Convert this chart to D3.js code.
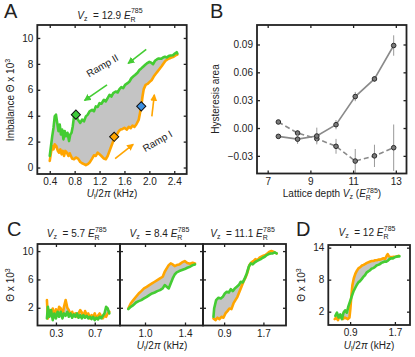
<!DOCTYPE html>
<html><head><meta charset="utf-8">
<script src="https://cdn.jsdelivr.net/npm/d3@7"></script>
<style>
body{margin:0;background:#fff}
svg text{font-family:"Liberation Sans",Arial,Helvetica,sans-serif;fill:#222}
</style></head><body>
<svg id="fig" width="415" height="357"></svg>
<script>
// ---------- DATA ----------
// Panel A (Vz = 12.9)
const aOrange = [[0.40,0.51],[0.42,1.15],[0.44,1.66],[0.46,1.40],[0.48,1.79],[0.505,1.66],[0.53,1.28],[0.55,1.15],[0.57,1.40],[0.59,1.02],[0.61,1.28],[0.63,0.89],[0.65,1.28],[0.675,1.15],[0.70,0.89],[0.72,1.10],[0.74,0.89],[0.76,0.69],[0.79,0.64],[0.82,0.77],[0.855,0.69],[0.89,0.43],[0.92,0.33],[0.95,0.26],[0.98,0.18],[1.01,0.26],[1.04,0.38],[1.08,0.69],[1.11,0.94],[1.14,0.89],[1.17,1.15],[1.20,1.02],[1.23,0.89],[1.27,0.69],[1.30,0.64],[1.33,0.89],[1.36,1.28],[1.39,1.66],[1.42,2.04],[1.445,2.30],[1.48,2.55],[1.51,2.81],[1.54,2.93],[1.57,2.98],[1.60,3.06],[1.64,2.93],[1.67,3.14],[1.70,3.04],[1.73,3.24],[1.76,3.14],[1.79,3.32],[1.83,3.70],[1.85,4.21],[1.87,4.72],[1.89,5.48],[1.91,6.05],[1.94,6.38],[1.97,6.45],[2.01,6.63],[2.04,6.76],[2.07,7.02],[2.10,7.22],[2.13,7.40],[2.16,7.58],[2.20,7.83],[2.23,8.04],[2.26,8.24],[2.29,8.34],[2.32,8.42],[2.355,8.49],[2.39,8.55],[2.42,8.65],[2.45,8.72]];
const aGreen = [[0.40,0.89],[0.42,1.66],[0.44,2.42],[0.46,3.06],[0.48,3.95],[0.50,4.08],[0.52,3.44],[0.54,2.81],[0.56,3.32],[0.58,2.55],[0.60,2.93],[0.62,2.17],[0.64,2.81],[0.66,2.42],[0.685,2.68],[0.71,2.04],[0.73,2.55],[0.75,2.68],[0.77,3.19],[0.79,3.95],[0.82,4.08],[0.85,3.70],[0.89,3.44],[0.92,3.70],[0.95,3.57],[0.98,3.95],[1.01,4.08],[1.04,4.34],[1.08,4.46],[1.11,4.34],[1.14,4.72],[1.17,4.67],[1.20,4.97],[1.23,4.92],[1.27,5.23],[1.30,5.10],[1.33,5.36],[1.36,5.61],[1.39,5.48],[1.42,5.74],[1.46,5.87],[1.49,5.79],[1.52,6.05],[1.55,6.20],[1.58,6.12],[1.61,6.38],[1.65,6.51],[1.68,6.63],[1.71,6.89],[1.74,7.02],[1.77,7.14],[1.81,7.32],[1.84,7.53],[1.87,7.65],[1.90,7.78],[1.93,7.91],[1.96,8.04],[2.00,8.16],[2.03,8.09],[2.06,7.98],[2.09,8.24],[2.12,8.34],[2.15,8.42],[2.19,8.39],[2.22,8.49],[2.25,8.55],[2.28,8.49],[2.31,8.60],[2.34,8.65],[2.38,8.67],[2.41,8.80],[2.44,8.90],[2.45,8.80]];
const aDiamonds = [[0.82,4.08,'#3ec93a'],[1.435,2.37,'#ffa500'],[1.87,4.72,'#3b8fe3']];
const aXTicks = [0.4,0.8,1.2,1.6,2.0,2.4];
const aYTicks = [0,2,4,6,8,10];

// Panel B
const bDepth = [7.5,8.4,9.3,10.2,11.1,12.0,12.9];
const bSolid = [-0.009,-0.012,-0.0086,0.0036,0.0339,0.0529,0.0889];
const bSolidErr = [0.002,0.005,0.009,0.005,0.005,0.003,0.011];
const bDashed = [0.0065,-0.0054,-0.0115,-0.0197,-0.0356,-0.030,-0.0212];
const bDashedErr = [0.002,0.003,0.004,0.008,0.013,0.012,0.025];
const bXTicks = [7,9,11,13];
const bYTicks = [-0.03,0,0.03,0.06,0.09];

// Panel C
const cTitles = ['5.7','8.4','11.1'];
const c1Orange = [[0.207,3.08],[0.217,0.5],[0.233,1.67],[0.25,0.96],[0.267,1.9],[0.283,0.73],[0.30,1.8],[0.317,1.2],[0.333,2.14],[0.35,1.9],[0.367,0.96],[0.383,2.14],[0.40,3.08],[0.417,2.0],[0.433,1.67],[0.45,0.96],[0.467,1.44],[0.483,0.82],[0.50,1.2],[0.517,0.73],[0.533,1.2],[0.55,1.67],[0.567,1.34],[0.583,0.73],[0.60,1.53],[0.617,0.96],[0.633,1.2],[0.65,0.5],[0.667,0.96],[0.683,0.73],[0.70,1.2],[0.717,0.5],[0.733,0.87],[0.75,1.2],[0.767,0.73],[0.783,0.5],[0.80,0.96],[0.817,0.73],[0.833,1.2],[0.85,1.44]];
const c1Green = [[0.207,0.5],[0.217,2.14],[0.233,0.73],[0.25,1.67],[0.267,0.26],[0.283,1.2],[0.30,0.5],[0.317,1.44],[0.333,0.73],[0.35,1.44],[0.367,0.5],[0.383,1.2],[0.40,0.87],[0.417,1.44],[0.433,0.73],[0.45,1.2],[0.467,0.6],[0.483,1.06],[0.50,0.73],[0.517,1.2],[0.533,0.6],[0.55,0.96],[0.567,0.5],[0.583,0.96],[0.60,0.6],[0.617,0.87],[0.633,0.5],[0.65,0.73],[0.667,0.4],[0.683,0.73],[0.70,0.26],[0.717,0.6],[0.733,0.35],[0.75,0.73],[0.767,0.5],[0.783,0.87],[0.80,1.2],[0.817,2.14],[0.833,1.9],[0.85,1.2]];
const c2Orange = [[0.833,1.9],[0.857,2.61],[0.883,3.08],[0.91,3.55],[0.937,4.02],[0.963,4.35],[0.99,4.73],[1.017,4.96],[1.043,5.2],[1.07,5.43],[1.097,5.67],[1.123,5.9],[1.15,6.14],[1.177,6.38],[1.197,7.08],[1.217,7.55],[1.237,8.02],[1.257,8.26],[1.277,8.12],[1.297,7.88],[1.317,8.02],[1.343,8.12],[1.37,8.4],[1.397,8.59],[1.423,8.31],[1.45,8.21],[1.477,8.35],[1.50,8.26]];
const c2Green = [[0.833,1.81],[0.857,2.14],[0.883,2.38],[0.91,2.75],[0.937,2.94],[0.963,3.08],[0.99,3.32],[1.017,3.55],[1.043,3.79],[1.07,4.02],[1.097,4.16],[1.123,4.35],[1.15,4.49],[1.177,4.73],[1.197,5.2],[1.217,4.96],[1.237,4.73],[1.257,5.43],[1.277,6.14],[1.297,6.7],[1.317,6.99],[1.343,7.18],[1.37,7.32],[1.397,7.46],[1.423,7.65],[1.45,7.79],[1.477,8.02],[1.50,8.12]];
const c3Orange = [[0.683,0.5],[0.724,0.26],[0.764,0.6],[0.805,0.4],[0.846,0.73],[0.886,0.6],[0.927,1.2],[0.968,1.53],[1.008,1.9],[1.049,1.81],[1.09,2.61],[1.13,3.08],[1.171,3.55],[1.212,4.26],[1.253,4.96],[1.293,5.67],[1.334,6.24],[1.375,6.99],[1.415,8.02],[1.456,8.4],[1.497,8.59],[1.537,8.87],[1.578,8.73],[1.619,9.06],[1.659,9.2],[1.70,9.34],[1.741,9.44],[1.781,9.67],[1.822,9.91],[1.863,10.0],[1.903,9.91],[1.944,9.76],[1.97,9.67]];
const c3Green = [[0.683,0.73],[0.697,1.9],[0.737,3.08],[0.785,3.41],[0.832,3.32],[0.873,3.55],[0.914,4.02],[0.954,4.26],[0.995,4.16],[1.036,4.64],[1.076,4.35],[1.117,4.73],[1.158,4.96],[1.198,5.2],[1.239,5.67],[1.28,5.58],[1.32,6.14],[1.361,6.85],[1.402,7.79],[1.442,8.26],[1.483,8.12],[1.524,8.4],[1.564,8.59],[1.605,8.73],[1.646,8.87],[1.686,9.06],[1.727,9.2],[1.768,9.44],[1.808,9.58],[1.849,9.67],[1.89,9.67],[1.93,9.81],[1.97,9.67]];
const c1XTicks = [0.3,0.7];
const c2XTicks = [1.0,1.4];
const c3XTicks = [0.9,1.7];
const cYTicks = [2,6,10];

// Panel D (Vz = 12)
const dOrange = [[0.624,0.6],[0.653,0.9],[0.682,0.41],[0.712,1.2],[0.741,0.9],[0.771,0.6],[0.80,0.9],[0.829,0.78],[0.859,0.6],[0.888,0.9],[0.906,2.73],[0.924,5.17],[0.941,7.0],[0.965,8.22],[0.994,9.13],[1.024,9.74],[1.053,10.17],[1.082,10.35],[1.112,10.66],[1.141,10.78],[1.171,10.96],[1.20,11.15],[1.229,11.27],[1.259,11.39],[1.288,11.51],[1.318,11.51],[1.347,11.63],[1.376,11.63],[1.406,11.76],[1.435,11.76],[1.465,11.88],[1.494,12.0],[1.524,11.88],[1.553,12.49],[1.571,12.79],[1.594,12.37],[1.624,12.18],[1.653,12.24],[1.682,12.3],[1.712,12.3],[1.741,12.37],[1.771,12.49]];
const dGreen = [[0.635,1.2],[0.665,1.82],[0.694,0.9],[0.724,1.5],[0.753,0.6],[0.782,1.82],[0.812,2.24],[0.841,1.82],[0.87,3.04],[0.90,3.95],[0.929,4.87],[0.959,5.78],[0.988,6.39],[1.018,7.0],[1.047,7.49],[1.076,7.73],[1.106,8.1],[1.135,8.52],[1.165,8.83],[1.194,9.32],[1.224,9.56],[1.253,9.74],[1.282,10.05],[1.312,10.17],[1.341,10.35],[1.371,10.66],[1.40,10.78],[1.429,10.9],[1.459,11.15],[1.488,11.27],[1.518,11.39],[1.547,11.39],[1.576,11.57],[1.606,11.88],[1.635,12.0],[1.665,12.0],[1.694,12.18],[1.724,12.3],[1.753,12.37],[1.782,12.37]];
const dXTicks = [0.9,1.7];
const dYTicks = [2,8,14];

// ---------- DRAWING ----------
const ORANGE = '#ffa500', GREEN = '#44cc33', FILL = '#c4c4c4', INK = '#222';
const svg = d3.select('#fig');
const defs = svg.append('defs');
[['arrG', GREEN], ['arrO', ORANGE]].forEach(([id, c]) => {
  defs.append('marker').attr('id', id).attr('markerUnits', 'userSpaceOnUse')
    .attr('markerWidth', 8).attr('markerHeight', 8).attr('refX', 6).attr('refY', 3.5)
    .attr('orient', 'auto').append('path').attr('d', 'M0,0 L7,3.5 L0,7 Z').attr('fill', c);
});

function panel(o) {
  const x = d3.scaleLinear().domain(o.xDomain).range([o.x0, o.x1]);
  const y = d3.scaleLinear().domain(o.yDomain).range([o.y1, o.y0]);
  const g = svg.append('g');
  const content = g.append('g');
  const ax = g.append('g');
  const style = s => s.attr('font-family', '"Liberation Sans",Arial,sans-serif').attr('font-size', 10)
    .call(s => s.select('.domain').remove())
    .call(s => s.selectAll('line').attr('stroke', INK).attr('stroke-width', 1.3))
    .call(s => s.selectAll('text').attr('fill', INK));
  ax.append('g').attr('transform', `translate(0,${o.y1})`)
    .call(d3.axisBottom(x).tickValues(o.xTicks).tickSizeInner(-3).tickSizeOuter(0).tickPadding(4)
      .tickFormat(o.xFmt || d3.format('.1f'))).call(style);
  ax.append('g').attr('transform', `translate(0,${o.y0})`)
    .call(d3.axisTop(x).tickValues(o.xTicks).tickSizeInner(-3).tickSizeOuter(0).tickFormat('')).call(style);
  ax.append('g').attr('transform', `translate(${o.x0},0)`)
    .call(d3.axisLeft(y).tickValues(o.yTicks).tickSizeInner(-3).tickSizeOuter(0).tickPadding(4)
      .tickFormat(o.showY === false ? '' : (o.yFmt || d3.format('d')))).call(style);
  ax.append('g').attr('transform', `translate(${o.x1},0)`)
    .call(d3.axisRight(y).tickValues(o.yTicks).tickSizeInner(-3).tickSizeOuter(0).tickFormat('')).call(style);
  g.append('rect').attr('x', o.x0).attr('y', o.y0).attr('width', o.x1 - o.x0).attr('height', o.y1 - o.y0)
    .attr('fill', 'none').attr('stroke', INK).attr('stroke-width', 1.8);
  return {x, y, g, content};
}

function hyst(p, orange, green) {
  const line = d3.line().x(d => p.x(d[0])).y(d => p.y(d[1]));
  p.content.append('path').attr('d', line(orange.concat(green.slice().reverse())) + 'Z')
    .attr('fill', FILL).attr('stroke', 'none');
  p.content.append('path').attr('d', line(orange)).attr('fill', 'none').attr('stroke', ORANGE)
    .attr('stroke-width', 2.6).attr('stroke-linejoin', 'round').attr('stroke-linecap', 'round');
  p.content.append('path').attr('d', line(green)).attr('fill', 'none').attr('stroke', GREEN)
    .attr('stroke-width', 2.6).attr('stroke-linejoin', 'round').attr('stroke-linecap', 'round');
}

function vzTitle(cx, cy, val) {
  const t = svg.append('text').attr('x', cx).attr('y', cy).attr('text-anchor', 'middle').attr('font-size', 10);
  t.append('tspan').attr('font-style', 'italic').text('V');
  t.append('tspan').attr('font-size', 7).attr('dy', 2).text('z');
  t.append('tspan').attr('dy', -2).text('\u00a0 = ' + val + ' ');
  t.append('tspan').attr('font-style', 'italic').text('E');
  t.append('tspan').attr('font-size', 7).attr('dy', 3).text('R');
  t.append('tspan').attr('font-size', 7).attr('dx', -4.7).attr('dy', -8.5).text('785');
}
function ulLabel(cx, cy) {
  const t = svg.append('text').attr('x', cx).attr('y', cy).attr('text-anchor', 'middle').attr('font-size', 10);
  t.append('tspan').attr('font-style', 'italic').text('U');
  t.append('tspan').attr('font-size', 7).attr('dy', 2).text('l');
  t.append('tspan').attr('dy', -2).text('/2');
  t.append('tspan').attr('font-style', 'italic').text('\u03c0');
  t.append('tspan').text(' (kHz)');
}
function thetaLabel(cx, cy, prefix) {
  const t = svg.append('text').attr('transform', `translate(${cx},${cy}) rotate(-90)`)
    .attr('text-anchor', 'middle').attr('font-size', 10);
  t.append('tspan').text(prefix + '\u0398 x 10');
  t.append('tspan').attr('font-size', 7).attr('dy', -4).text('3');
}
function letter(t, x, y) {
  svg.append('text').attr('x', x).attr('y', y).attr('font-size', 20).text(t);
}

// Panel A
const pA = panel({x0: 37.3, x1: 186.7, y0: 25, y1: 174, xDomain: [0.2, 2.6], yDomain: [-0.5, 11],
  xTicks: aXTicks, yTicks: aYTicks});
hyst(pA, aOrange, aGreen);
pA.content.selectAll('path.dia').data(aDiamonds).join('path')
  .attr('d', d3.symbol(d3.symbolSquare, 42)())
  .attr('transform', d => `translate(${pA.x(d[0])},${pA.y(d[1])}) rotate(45)`)
  .attr('fill', d => d[2]).attr('stroke', '#111').attr('stroke-width', 1);
const arrows = [
  [[1.95, 9.11], [1.66, 8.04], GREEN, 'arrG'],
  [[1.32, 6.38], [0.96, 5.18], GREEN, 'arrG'],
  [[1.45, 0.69], [1.74, 1.79], ORANGE, 'arrO'],
  [[2.04, 3.95], [2.08, 5.61], ORANGE, 'arrO']];
arrows.forEach(([a, b, c, m]) => {
  pA.content.append('line').attr('x1', pA.x(a[0])).attr('y1', pA.y(a[1]))
    .attr('x2', pA.x(b[0])).attr('y2', pA.y(b[1])).attr('stroke', c).attr('stroke-width', 1.6)
    .attr('marker-end', `url(#${m})`);
});
pA.content.append('text').attr('transform', `translate(${pA.x(1.245)},${pA.y(7.86)}) rotate(-30)`)
  .attr('text-anchor', 'middle').attr('dy', '0.35em').attr('font-size', 10).attr('fill', '#333').text('Ramp II');
pA.content.append('text').attr('transform', `translate(${pA.x(2.13)},${pA.y(2.04)}) rotate(-30)`)
  .attr('text-anchor', 'middle').attr('dy', '0.35em').attr('font-size', 10).attr('fill', '#333').text('Ramp I');
letter('A', 4, 18);
vzTitle(110, 18.5, '12.9');
thetaLabel(14, 100, 'Imbalance ');
ulLabel(112, 197);

// Panel B
const pB = panel({x0: 257, x1: 406.5, y0: 25, y1: 173.5, xDomain: [6.5, 13.5], yDomain: [-0.049, 0.111],
  xTicks: bXTicks, yTicks: bYTicks, xFmt: d3.format('d'), yFmt: d3.format('.2f')});
function bSeries(vals, errs, dash) {
  const pts = bDepth.map((d, i) => [d, vals[i], errs[i]]);
  pB.content.selectAll(null).data(pts).join('line')
    .attr('x1', d => pB.x(d[0])).attr('x2', d => pB.x(d[0]))
    .attr('y1', d => pB.y(Math.max(d[1] - d[2], -0.049))).attr('y2', d => pB.y(d[1] + d[2]))
    .attr('stroke', '#999').attr('stroke-width', 1);
  pB.content.append('path').attr('d', d3.line().x(d => pB.x(d[0])).y(d => pB.y(d[1]))(pts))
    .attr('fill', 'none').attr('stroke', '#8a8a8a').attr('stroke-width', 1.6)
    .attr('stroke-dasharray', dash ? '5,3' : null);
  pB.content.selectAll(null).data(pts).join('circle')
    .attr('cx', d => pB.x(d[0])).attr('cy', d => pB.y(d[1])).attr('r', 2.3)
    .attr('fill', '#7a7a7a').attr('stroke', '#2a2a2a').attr('stroke-width', 1);
}
bSeries(bDashed, bDashedErr, true);
bSeries(bSolid, bSolidErr, false);
letter('B', 210, 18);
svg.append('text').attr('transform', 'translate(219,99) rotate(-90)').attr('text-anchor', 'middle')
  .attr('font-size', 10).text('Hysteresis area');
{
  const t = svg.append('text').attr('x', 332).attr('y', 197).attr('text-anchor', 'middle').attr('font-size', 10);
  t.append('tspan').text('Lattice depth ');
  t.append('tspan').attr('font-style', 'italic').text('V');
  t.append('tspan').attr('font-size', 7).attr('dy', 2).text('z');
  t.append('tspan').attr('dy', -2).text(' (');
  t.append('tspan').attr('font-style', 'italic').text('E');
  t.append('tspan').attr('font-size', 7).attr('dy', 3).text('R');
  t.append('tspan').attr('font-size', 7).attr('dx', -4.7).attr('dy', -7.5).text('785');
  t.append('tspan').attr('dy', 4.5).text(')');
}

// Panel C
const cDefs = [
  {x0: 37.5, x1: 120, xDomain: [0.11, 0.96], xTicks: c1XTicks, o: c1Orange, g: c1Green, showY: true},
  {x0: 120, x1: 203, xDomain: [0.75, 1.58], xTicks: c2XTicks, o: c2Orange, g: c2Green, showY: false},
  {x0: 203, x1: 286, xDomain: [0.47, 2.16], xTicks: c3XTicks, o: c3Orange, g: c3Green, showY: false}];
cDefs.forEach((c, i) => {
  const p = panel({x0: c.x0, x1: c.x1, y0: 244, y1: 325.5, xDomain: c.xDomain, yDomain: [-0.5, 11],
    xTicks: c.xTicks, yTicks: cYTicks, showY: c.showY});
  hyst(p, c.o, c.g);
  vzTitle((c.x0 + c.x1) / 2 - 2, 237, cTitles[i]);
});
letter('C', 7, 236);
thetaLabel(14, 285, '');
ulLabel(162, 349);

// Panel D
const pD = panel({x0: 328.3, x1: 410, y0: 245, y1: 325, xDomain: [0.51, 1.97], yDomain: [-0.5, 14.5],
  xTicks: dXTicks, yTicks: dYTicks});
hyst(pD, dOrange, dGreen);
letter('D', 296, 236);
vzTitle(367, 236, '12');
thetaLabel(305, 285, '');
ulLabel(369, 349);
</script>
</body></html>
